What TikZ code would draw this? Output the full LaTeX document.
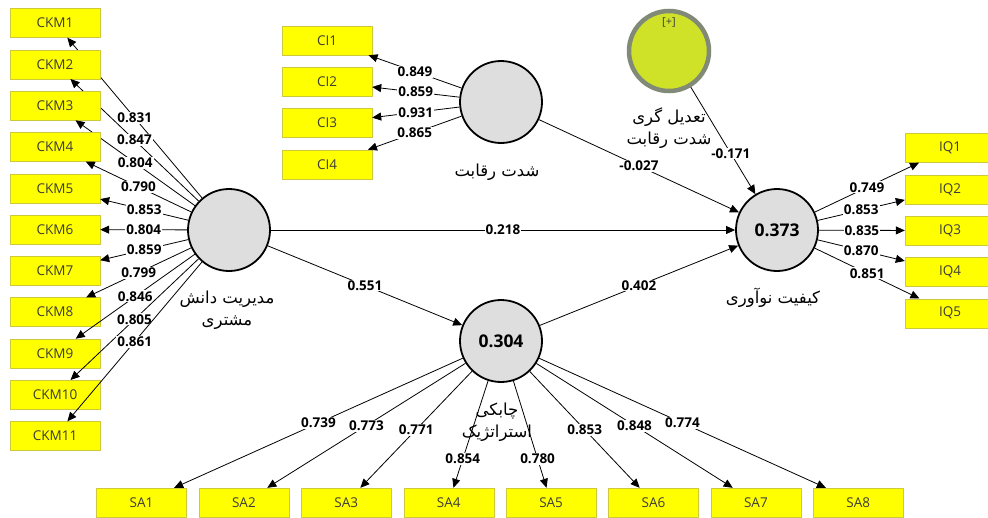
\documentclass[tikz,border=0pt]{standalone}
\usepackage{fontspec}
\setmainfont{Open Sans}
\newfontfamily\farsi[Script=Arabic]{DejaVu Sans}
\TeXXeTstate=1
\usetikzlibrary{positioning}
\usetikzlibrary{arrows.meta}

\definecolor{boxyellow}{RGB}{255,255,0}
\definecolor{boxedge}{RGB}{205,200,60}
\definecolor{boxtext}{RGB}{60,60,60}
\definecolor{latentgray}{RGB}{222,222,222}
\definecolor{modfill}{RGB}{207,226,40}
\definecolor{modedge}{RGB}{128,138,118}

\tikzset{
  indicator/.style={draw=boxedge, fill=boxyellow, minimum width=90pt, minimum height=29pt,
    inner sep=0pt, text=boxtext, font=\fontsize{13.5}{14}\selectfont},
  latent/.style={circle, draw=black, line width=1.8pt, fill=latentgray, minimum size=82pt,
    inner sep=0pt, font=\bfseries\fontsize{17.5}{18}\selectfont},
  loading/.style={fill=white, inner sep=1pt, font=\bfseries\fontsize{13.5}{14}\selectfont},
  link/.style={-{Triangle[length=9pt,width=8pt]}, line width=0.8pt},
  lvname/.style={align=center, font=\farsi\fontsize{16.5}{22}\selectfont}
}

\begin{document}
\begin{tikzpicture}[x=1pt, y=-1pt]
  \useasboundingbox (0,0) rectangle (988,517);

  % latent variables
  \node[latent] (ckm) at (229,230) {};
  \node[latent] (ci) at (501,102) {};
  \node[latent] (iq) at (777,230) {0.373};
  \node[latent] (sa) at (501,341) {0.304};
  \node[circle, draw=modedge, line width=4.5pt, fill=modfill, minimum size=80pt] (mod) at (669,51) {};
  \node[text=boxtext, font=\fontsize{11}{12}\selectfont] (modplus) at (669,22) {[+]};

  % names of the latent variables
  \node[lvname] (ckmname) at (227,310) {\beginR مدیریت دانش\endR\\\beginR مشتری\endR};
  \node[lvname] (ciname) at (497,172) {\beginR شدت رقابت\endR};
  \node[lvname] (modname) at (669,128) {\beginR تعدیل گری\endR\\\beginR شدت رقابت\endR};
  \node[lvname] (iqname) at (773,298) {\beginR کیفیت نوآوری\endR};

  % indicators
  \foreach \i/\l in {1/0.831,2/0.847,3/0.804,4/0.790,5/0.853,6/0.804,7/0.859,8/0.799,9/0.846,10/0.805,11/0.861}{
    \node[indicator] (ckm\i) at (55,{23+41.3*(\i-1)}) {CKM\i};
    \draw[link] (ckm) -- node[loading] {\l} (ckm\i);
  }
  \foreach \i/\l in {1/0.849,2/0.859,3/0.931,4/0.865}{
    \node[indicator] (ci\i) at (327,{40.5+41.3*(\i-1)}) {CI\i};
    \draw[link] (ci) -- node[loading] {\l} (ci\i);
  }
  \foreach \i/\l in {1/0.749,2/0.853,3/0.835,4/0.870,5/0.851}{
    \node[indicator] (iq\i) at (950,{148+41.3*(\i-1)}) {IQ\i};
    \draw[link] (iq) -- node[loading] {\l} (iq\i);
  }
  \foreach \i/\l/\p in {1/0.739/0.5,2/0.773/0.5,3/0.771/0.5,4/0.854/0.73,5/0.780/0.73,6/0.853/0.5,7/0.848/0.5,8/0.774/0.5}{
    \node[indicator] (sa\i) at ({141.5+102.4*(\i-1)},502.5) {SA\i};
    \draw[link] (sa) -- node[loading, pos=\p] {\l} (sa\i);
  }

  \node[lvname] (saname) at (497,422) {\beginR چابکی\endR\\\beginR استراتژیک\endR};

  % paths
  \draw[link] (ckm) -- node[loading] {0.218} (iq);
  \draw[link] (ckm) -- node[loading] {0.551} (sa);
  \draw[link] (sa) -- node[loading] {0.402} (iq);
  \draw[link] (ci) -- node[loading] {-0.027} (iq);
  \draw[link] (mod) -- node[loading, pos=0.62] {-0.171} (iq);
\end{tikzpicture}
\end{document}
